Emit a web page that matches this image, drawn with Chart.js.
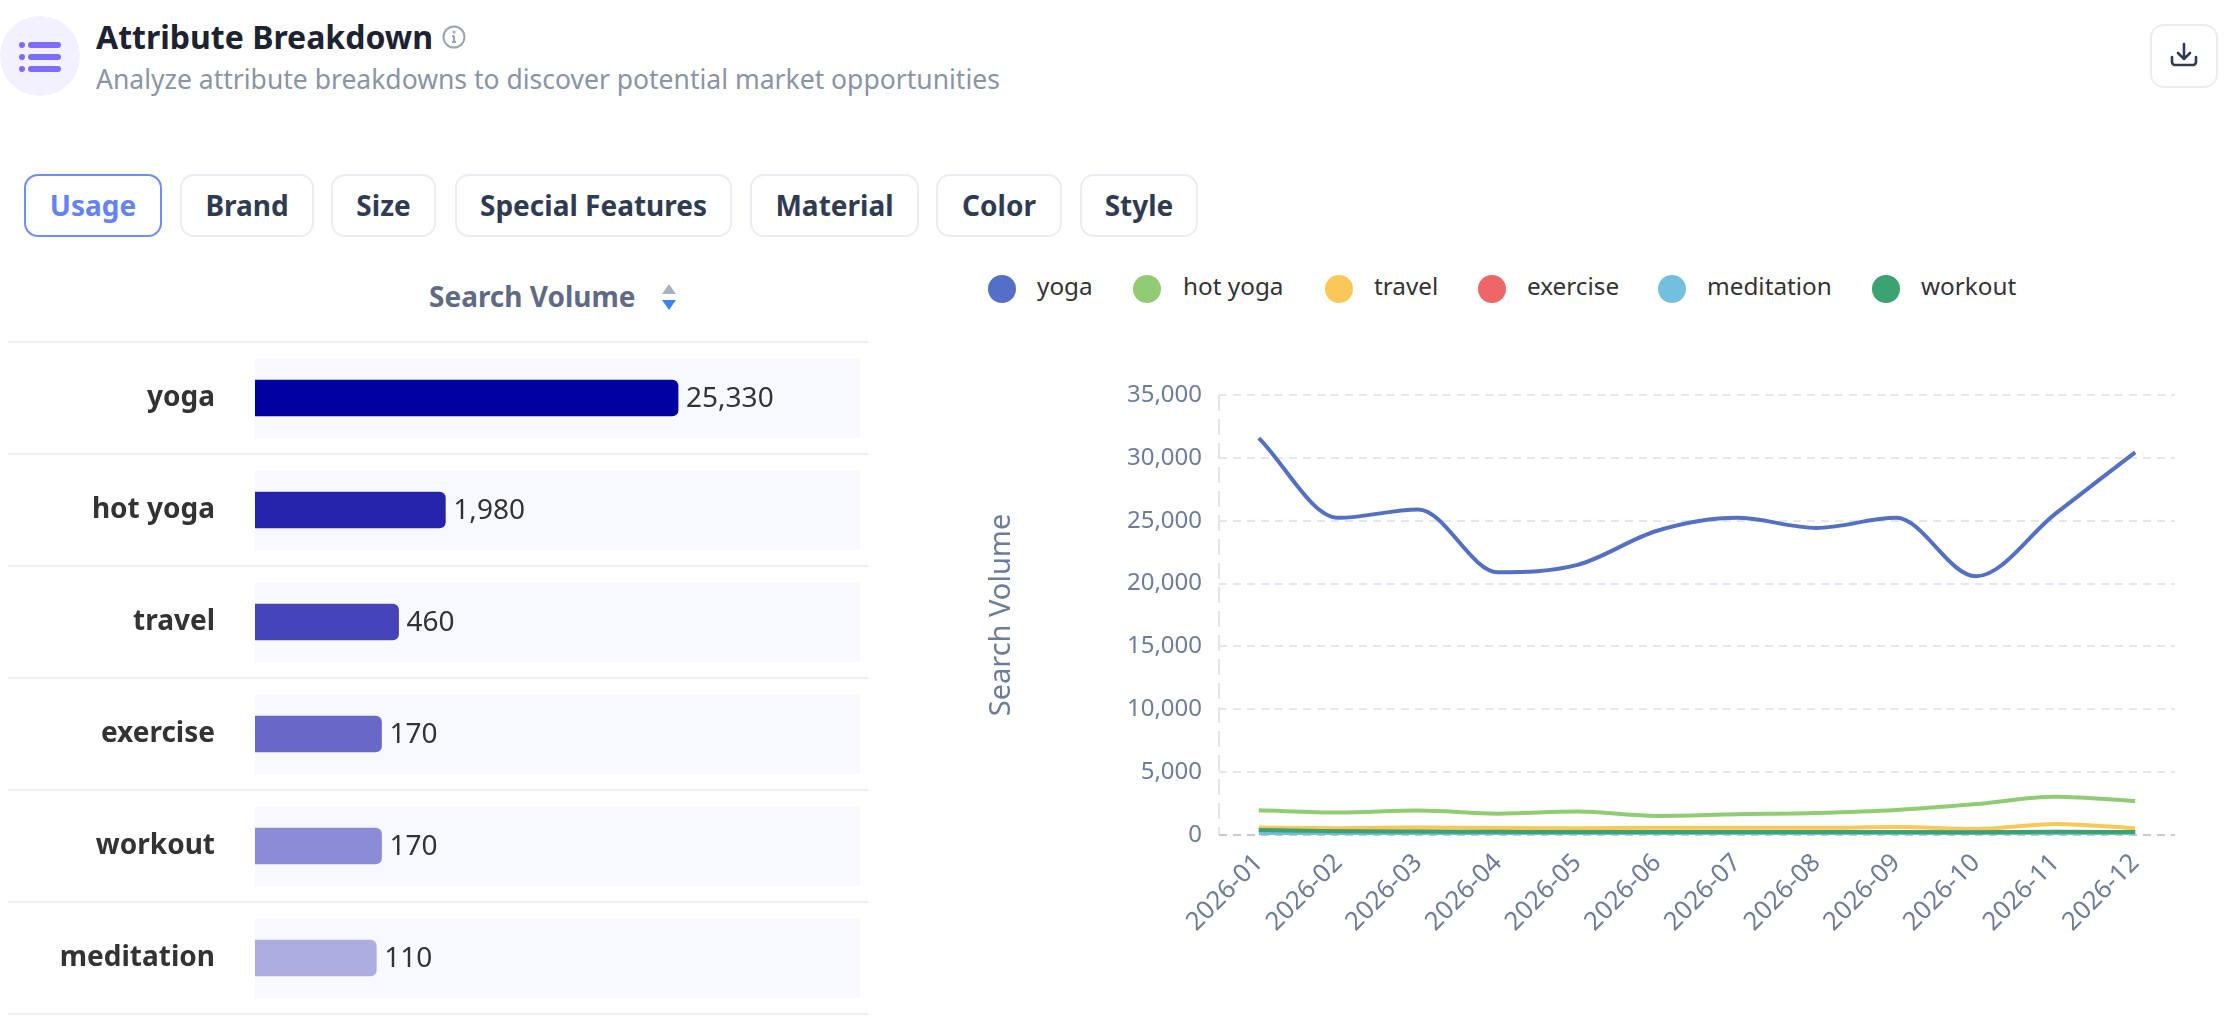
<!DOCTYPE html>
<html lang="en">
<head>
<meta charset="utf-8">
<title>Attribute Breakdown</title>
<script src="https://cdn.jsdelivr.net/npm/chart.js@4/dist/chart.umd.js"></script>
<style>
  html, body { margin: 0; padding: 0; background: #fff; }
  body { width: 2234px; height: 1028px; position: relative; overflow: hidden; font-family: "Noto Sans", sans-serif; }
  .abs { position: absolute; white-space: nowrap; }
  .logo { left: 0; top: 16px; width: 80px; height: 80px; border-radius: 50%; background: #f3f0ff; }
  h1 { margin: 0; left: 96px; top: 15px; font-size: 32px; line-height: 44px; font-weight: 700; color: #1c2230; }
  .sub { left: 96px; top: 59px; font-size: 26.5px; line-height: 40px; color: #8a94a6; }
  .info { left: 442px; top: 25px; }
  .download { left: 2150px; top: 24px; width: 64px; height: 60px; border: 2px solid #ecedf3; border-radius: 14px; display: flex; align-items: center; justify-content: center; }
  .tab { top: 174px; height: 59px; line-height: 59px; border: 2px solid #ecedf3; border-radius: 14px; font-size: 28px; font-weight: 700; color: #2f3b52; text-align: center; box-sizing: content-box; }
  .tab.on { color: #6582fb; border-color: #6c8dff; }
  .colhead { left: 429px; top: 274px; font-size: 28px; line-height: 44px; font-weight: 700; color: #5f6b85; }
  .sort { left: 660px; top: 283px; }
  .legend-dot { top: 275px; width: 28px; height: 28px; border-radius: 50%; }
  .legend-text { top: 268px; font-size: 24.3px; line-height: 36px; color: #333; }
  canvas { position: absolute; display: block; }
</style>
</head>
<body>
  <div class="abs logo">
    <svg width="80" height="80" viewBox="0 0 80 80" fill="#7c6cff">
      <circle cx="22" cy="29" r="3"/><rect x="28" y="26" width="33" height="6" rx="3"/>
      <circle cx="22" cy="41" r="3"/><rect x="28" y="38" width="33" height="6" rx="3"/>
      <circle cx="22" cy="53" r="3"/><rect x="28" y="50" width="33" height="6" rx="3"/>
    </svg>
  </div>
  <h1 class="abs">Attribute Breakdown</h1>
  <svg class="abs info" width="24" height="24" viewBox="0 0 24 24" fill="none" stroke="#9aa3b5" stroke-width="2">
    <circle cx="12" cy="12" r="10.5"/><path d="M12 11v6M10 17h4M10 11h2"/><circle cx="12" cy="7" r="0.6"/>
  </svg>
  <div class="abs sub">Analyze attribute breakdowns to discover potential market opportunities</div>
  <div class="abs download">
    <svg width="28" height="28" viewBox="0 0 28 28" fill="none" stroke="#2f3b52" stroke-width="2.6" stroke-linecap="round" stroke-linejoin="round">
      <path d="M14 2v15M8 11l6 6 6-6M2 15v5a3 3 0 0 0 3 3h18a3 3 0 0 0 3-3v-5"/>
    </svg>
  </div>
  <div id="tabs"></div>
  <div class="abs colhead">Search Volume</div>
  <svg class="abs sort" width="18" height="28" viewBox="0 0 18 28">
    <path d="M9 1l7 10H2z" fill="#a8b0c2"/><path d="M9 27l-7-10h14z" fill="#3b82f6"/>
  </svg>
  <div id="legend"></div>
  <canvas id="bars" width="880" height="720" style="left:0;top:320px"></canvas>
  <canvas id="lines" width="1284" height="688" style="left:950px;top:340px"></canvas>

<script>
// Left panel: ranked bars on a square-root axis. Right panel: monthly trend lines.
const TABS = ["Usage", "Brand", "Size", "Special Features", "Material", "Color", "Style"];

const CATEGORIES = ["yoga", "hot yoga", "travel", "exercise", "workout", "meditation"];
const VOLUMES = [25330, 1980, 460, 170, 170, 110];
const BAR_COLORS = ["#0000a0", "#2522ab", "#4545b9", "#6868c8", "#8c8bd7", "#aeade2"];

const MONTHS = ["2026-01", "2026-02", "2026-03", "2026-04", "2026-05", "2026-06",
                "2026-07", "2026-08", "2026-09", "2026-10", "2026-11", "2026-12"];
const YOGA = [31575, 25230, 25900, 20900, 21490, 24200, 25230, 24430, 25230, 20580, 25570, 30440];
const HOT_YOGA = [1960, 1780, 1940, 1700, 1860, 1520, 1650, 1750, 1990, 2460, 3040, 2700];
const TRAVEL = [590, 545, 590, 560, 545, 580, 580, 570, 640, 470, 870, 530];
const EXERCISE = [380, 280, 260, 230, 210, 200, 200, 200, 210, 190, 220, 200];
const MEDITATION = [130, 100, 100, 90, 90, 90, 90, 90, 100, 90, 110, 90];
const WORKOUT = [400, 290, 270, 250, 230, 230, 230, 230, 230, 220, 260, 230];
const SERIES_NAMES = ["yoga", "hot yoga", "travel", "exercise", "meditation", "workout"];
const SERIES_COLORS = ["#5470c6", "#91cc75", "#fac858", "#ee6666", "#73c0de", "#3ba272"];

const FONT = '"Noto Sans", sans-serif';
const AXIS_TEXT = "#6e7c9c";

// tab and legend boxes as measured off the page
const TAB_BOXES = [[24, 134], [180, 130], [331, 101], [455, 273], [750, 165], [936, 122], [1080, 114]];
const LEGEND_X = [[988, 1037], [1133, 1183], [1325, 1374], [1478, 1527], [1658, 1707], [1872, 1921]];

document.getElementById("tabs").innerHTML = TABS.map((t, i) =>
  `<div class="abs tab${i === 0 ? " on" : ""}" style="left:${TAB_BOXES[i][0]}px;width:${TAB_BOXES[i][1]}px">${t}</div>`
).join("");

document.getElementById("legend").innerHTML = SERIES_NAMES.map((n, i) =>
  `<div class="abs legend-dot" style="left:${LEGEND_X[i][0]}px;background:${SERIES_COLORS[i]}"></div>` +
  `<div class="abs legend-text" style="left:${LEGEND_X[i][1]}px">${n}</div>`
).join("");

// Square-root axis; the bars in the reference grow with sqrt(value) from an offset zero.
const signedSqrt = (v) => Math.sign(v) * Math.sqrt(Math.abs(v));
class SqrtScale extends Chart.LinearScale {
  getPixelForValue(value) {
    const lo = signedSqrt(this.min), hi = signedSqrt(this.max);
    return this.getPixelForDecimal((signedSqrt(value) - lo) / (hi - lo));
  }
  getValueForPixel(pixel) {
    const lo = signedSqrt(this.min), hi = signedSqrt(this.max);
    const s = lo + this.getDecimalForPixel(pixel) * (hi - lo);
    return Math.sign(s) * s * s;
  }
}
SqrtScale.id = "sqrt";
SqrtScale.defaults = Chart.LinearScale.defaults;
Chart.register(SqrtScale);

const AXIS_START = -2430;
const AXIS_END = 61900;

const rowLines = {
  id: "rowLines",
  beforeDatasetsDraw(chart) {
    const { ctx, scales: { y } } = chart;
    const step = y.height / CATEGORIES.length;
    ctx.save();
    ctx.strokeStyle = "#f0f0f3";
    ctx.lineWidth = 2;
    for (let i = 0; i <= CATEGORIES.length; i++) {
      const py = y.top + step * i;
      ctx.beginPath();
      ctx.moveTo(8, py);
      ctx.lineTo(868, py);
      ctx.stroke();
    }
    ctx.restore();
  },
};

const valueLabels = {
  id: "valueLabels",
  afterDatasetsDraw(chart) {
    const { ctx } = chart;
    const meta = chart.getDatasetMeta(0);
    ctx.save();
    ctx.font = `28px ${FONT}`;
    ctx.fillStyle = "#333";
    ctx.textBaseline = "middle";
    meta.data.forEach((bar, i) => {
      ctx.fillText(VOLUMES[i].toLocaleString("en-US"), bar.x + 8, bar.y + 1);
    });
    ctx.restore();
  },
};

new Chart(document.getElementById("bars"), {
  type: "bar",
  data: {
    labels: CATEGORIES,
    datasets: [
      {
        data: VOLUMES,
        backgroundColor: BAR_COLORS,
        barThickness: 36,
        borderRadius: 6,
        base: AXIS_START,
        grouped: false,
        order: 1,
      },
      {
        data: CATEGORIES.map(() => AXIS_END),
        backgroundColor: "#f8f9fe",
        barThickness: 80,
        base: AXIS_START,
        grouped: false,
        order: 2,
      },
    ],
  },
  options: {
    indexAxis: "y",
    responsive: false,
    animation: false,
    layout: { padding: { top: 22, bottom: 26, right: 20 } },
    scales: {
      x: { type: "sqrt", min: AXIS_START, max: AXIS_END, display: false },
      y: {
        afterFit(axis) { axis.width = 255; },
        // the label gap comes from tickLength: ticks.padding would also eat into the plot height
        grid: { display: false, tickLength: 40 },
        border: { display: false },
        ticks: { padding: 0, color: "#333", font: { family: FONT, size: 28, weight: "700" } },
      },
    },
    plugins: { legend: { display: false }, tooltip: { enabled: false } },
  },
  plugins: [rowLines, valueLabels],
});

new Chart(document.getElementById("lines"), {
  type: "line",
  data: {
    labels: MONTHS,
    datasets: [YOGA, HOT_YOGA, TRAVEL, EXERCISE, MEDITATION, WORKOUT].map((values, i) => ({
      label: SERIES_NAMES[i],
      data: values,
      borderColor: SERIES_COLORS[i],
      borderWidth: 4,
      cubicInterpolationMode: "monotone",
      pointRadius: 0,
      order: SERIES_NAMES.length - i,
    })),
  },
  options: {
    responsive: false,
    animation: false,
    locale: "en-US",
    layout: { padding: { top: 55, right: 59 } },
    scales: {
      x: {
        offset: true,
        afterFit(axis) { axis.height = 193; },
        // only the leftmost gridline is kept: it is the dashed vertical axis
        grid: {
          drawTicks: false,
          offset: true,
          lineWidth: 2,
          color: (c) => (c.index === 0 ? "#e3e4ea" : "transparent"),
        },
        border: { display: false, dash: [16, 8] },
        ticks: {
          autoSkip: false, minRotation: 45, maxRotation: 45, padding: 13,
          color: AXIS_TEXT, font: { family: FONT, size: 25.5 },
        },
      },
      y: {
        min: 0,
        max: 35000,
        afterFit(axis) { axis.width = 269; },
        grid: {
          drawTicks: false,
          lineWidth: 2,
          color: (c) => (c.tick.value === 0 ? "#c5cad8" : "#e2e7f3"),
        },
        border: { display: false, dash: [8, 6] },
        ticks: { stepSize: 5000, padding: 17, color: AXIS_TEXT, font: { family: FONT, size: 24 } },
        title: {
          display: true,
          text: "Search Volume",
          color: AXIS_TEXT,
          font: { family: FONT, size: 29 },
          padding: { top: 34, bottom: 0 },
        },
      },
    },
    plugins: { legend: { display: false }, tooltip: { enabled: false } },
  },
});
</script>
</body>
</html>
